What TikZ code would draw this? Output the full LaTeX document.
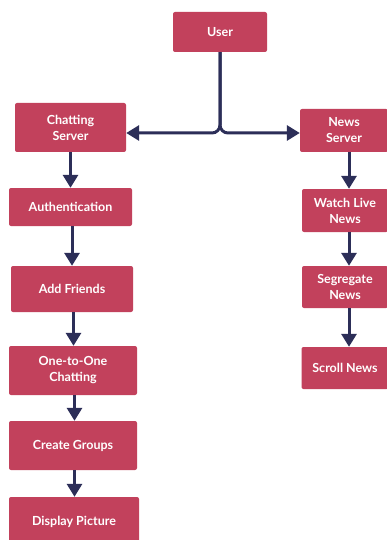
\documentclass[tikz,border=0pt]{standalone}
\usepackage{fontspec}
\setmainfont{Lato}
\usetikzlibrary{arrows.meta}
\definecolor{boxred}{RGB}{194,65,92}
\definecolor{arrnavy}{RGB}{44,46,88}
\begin{document}
\begin{tikzpicture}[x=1pt,y=-1pt,
  box/.style={draw=none,fill=boxred,rounded corners=2pt,inner sep=0pt,
    text=white,font=\bfseries\fontsize{12.5}{16}\selectfont,align=center},
  arr/.style={draw=arrnavy,line width=3pt,-{Triangle[width=15pt,length=13pt]}}]
\useasboundingbox (0,0) rectangle (387,540);
\clip (0,0) rectangle (387,540);
\fill[white] (0,0) rectangle (387,540);
% boxes
\node[box,minimum width=94pt,minimum height=40pt] (user) at (220,32) {User};
\node[box,minimum width=111pt,minimum height=49pt] (chat) at (70.5,127.5) {Chatting\\Server};
\node[box,minimum width=88pt,minimum height=43pt] (news) at (344,130.5) {News\\Server};
\node[box,minimum width=123pt,minimum height=38pt] (auth) at (70.5,207) {Authentication};
\node[box,minimum width=122pt,minimum height=46pt] (add) at (72,289) {Add Friends};
\node[box,minimum width=128pt,minimum height=49pt] (one) at (73,370.5) {One-to-One\\Chatting};
\node[box,minimum width=128pt,minimum height=49pt] (grp) at (73,445.5) {Create Groups};
\node[box,minimum width=130pt,minimum height=50pt] (disp) at (74,522) {Display Picture};
\node[box,minimum width=86pt,minimum height=43pt] (watch) at (345,210.5) {Watch Live\\News};
\node[box,minimum width=86pt,minimum height=42pt] (seg) at (345,287) {Segregate\\News};
\node[box,minimum width=87pt,minimum height=42pt] (scroll) at (345,368) {Scroll News};
% connectors
\coordinate (j) at (221,133);
\coordinate (rx) at (349,0);
\draw[arr,rounded corners=8pt] (user.south) |- (chat.east |- j);
\draw[arr,rounded corners=8pt] (user.south) |- (news.west |- j);
\draw[arr] (chat.south) -- (chat.south |- auth.north);
\draw[arr] ([xshift=1.5pt]auth.south) -- ([xshift=1.5pt]auth.south |- add.north);
\draw[arr] ([xshift=1.5pt]add.south) -- ([xshift=1.5pt]add.south |- one.north);
\draw[arr] ([xshift=1.5pt]one.south) -- ([xshift=1.5pt]one.south |- grp.north);
\draw[arr] ([xshift=1.5pt]grp.south) -- ([xshift=1.5pt]grp.south |- disp.north);
\draw[arr] (rx |- news.south) -- (rx |- watch.north);
\draw[arr] (rx |- watch.south) -- (rx |- seg.north);
\draw[arr] (rx |- seg.south) -- (rx |- scroll.north);
\end{tikzpicture}
\end{document}
